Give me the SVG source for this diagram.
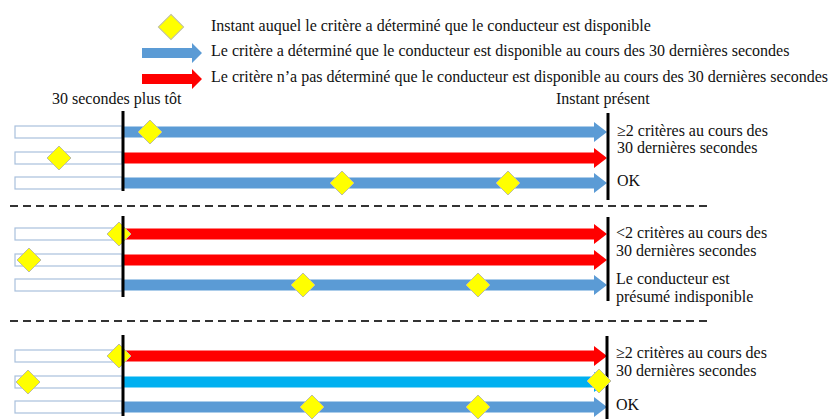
<svg xmlns="http://www.w3.org/2000/svg" width="830" height="419" viewBox="0 0 830 419">
<style>
text{font-family:"Liberation Serif","Times New Roman",serif;font-size:16px;fill:#111}
.box{fill:#fff;stroke:#A9C0DD;stroke-width:1.2}
.blue{fill:#5B9BD5}
.red{fill:#FF0000}
.cyan{fill:#00B0F0}
.dia{fill:#FFFF00;stroke:#BEBEA0;stroke-width:1}
.vl{stroke:#000;stroke-width:3}
.dash{stroke:#333;stroke-width:2;stroke-dasharray:8 5}
</style>
<defs>
<path id="arr" d="M0,-5.5 H471 V-10 L484,0 L471,10 V5.5 H0 Z"/>
<path id="dm" d="M0,-12 L12,0 L0,12 L-12,0 Z"/>
<rect id="bx" x="15" y="-6" width="107" height="12"/>
</defs>
<g id="legend">
<use href="#dm" class="dia" transform="translate(171,27) scale(1.05)"/>
<path class="blue" d="M142,48 H192 V43 L202,53 L192,63 V58 H142 Z"/>
<path class="red" d="M142,74 H192 V69 L202,79 L192,89 V84 H142 Z"/>
<text x="211" y="31">Instant auquel le critère a déterminé que le conducteur est disponible</text>
<text x="211" y="56">Le critère a déterminé que le conducteur est disponible au cours des 30 dernières secondes</text>
<text x="211" y="82">Le critère n’a pas déterminé que le conducteur est disponible au cours des 30 dernières secondes</text>
</g>
<g id="timelabels">
<text x="52" y="104">30 secondes plus tôt</text>
<text x="556" y="104">Instant présent</text>
</g>
<g id="connectors">
<line class="dash" x1="10" y1="206" x2="712" y2="206"/>
<line class="dash" x1="10" y1="321" x2="712" y2="321"/>
</g>
<g id="section1">
<use href="#bx" class="box" y="132"/>
<use href="#bx" class="box" y="158"/>
<use href="#bx" class="box" y="183"/>
<use href="#arr" class="blue" transform="translate(123,132)"/>
<use href="#arr" class="red" transform="translate(123,158)"/>
<use href="#arr" class="blue" transform="translate(123,183)"/>
<line class="vl" x1="123" y1="111" x2="123" y2="191"/>
<line class="vl" x1="608" y1="113" x2="608" y2="200"/>
<use href="#dm" class="dia" transform="translate(150,132)"/>
<use href="#dm" class="dia" transform="translate(59,158)"/>
<use href="#dm" class="dia" transform="translate(342,183)"/>
<use href="#dm" class="dia" transform="translate(508,183)"/>
<text x="617" y="136">≥2 critères au cours des</text>
<text x="617" y="153">30 dernières secondes</text>
<text x="617" y="186">OK</text>
</g>
<g id="section2">
<use href="#bx" class="box" y="234"/>
<use href="#bx" class="box" y="260"/>
<use href="#bx" class="box" y="285"/>
<use href="#arr" class="red" transform="translate(123,234)"/>
<use href="#arr" class="red" transform="translate(123,260)"/>
<use href="#arr" class="blue" transform="translate(123,285)"/>
<use href="#dm" class="dia" transform="translate(119,234)"/>
<use href="#dm" class="dia" transform="translate(29,260)"/>
<use href="#dm" class="dia" transform="translate(303,285)"/>
<use href="#dm" class="dia" transform="translate(478,285)"/>
<line class="vl" x1="123" y1="216" x2="123" y2="297"/>
<line class="vl" x1="608" y1="217" x2="608" y2="301"/>
<text x="616" y="238">&lt;2 critères au cours des</text>
<text x="616" y="256">30 dernières secondes</text>
<text x="616" y="284">Le conducteur est</text>
<text x="616" y="302">présumé indisponible</text>
</g>
<g id="section3">
<use href="#bx" class="box" y="356"/>
<use href="#bx" class="box" y="382"/>
<use href="#bx" class="box" y="407"/>
<use href="#arr" class="red" transform="translate(123,356)"/>
<use href="#arr" class="cyan" transform="translate(123,382)"/>
<use href="#arr" class="blue" transform="translate(123,407)"/>
<use href="#dm" class="dia" transform="translate(119,356)"/>
<use href="#dm" class="dia" transform="translate(28,382)"/>
<use href="#dm" class="dia" transform="translate(312,407)"/>
<use href="#dm" class="dia" transform="translate(478,407)"/>
<line class="vl" x1="123" y1="335" x2="123" y2="416"/>
<line class="vl" x1="607" y1="336" x2="607" y2="419"/>
<use href="#dm" class="dia" transform="translate(599,381)"/>
<text x="616" y="358">≥2 critères au cours des</text>
<text x="616" y="376">30 dernières secondes</text>
<text x="616" y="410">OK</text>
</g>
</svg>
